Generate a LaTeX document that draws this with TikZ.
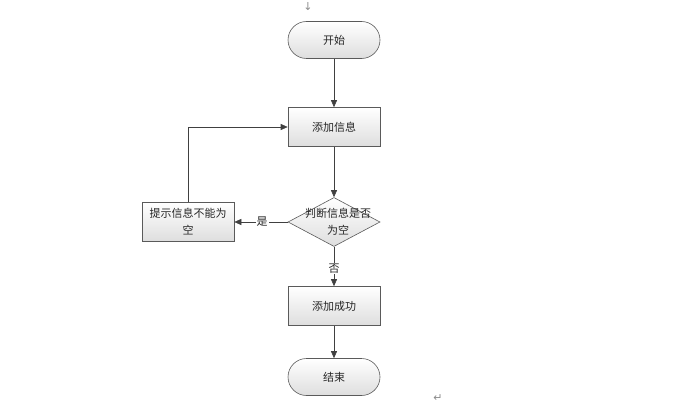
\documentclass[tikz,border=0pt]{standalone}
\usepackage{fontspec}
\setmainfont{Noto Sans CJK SC}
\newfontfamily\symfont{DejaVu Sans}
\definecolor{flowline}{RGB}{64,64,64}
\definecolor{flowedge}{RGB}{90,90,90}
\definecolor{flowfill}{RGB}{222,222,222}
\usetikzlibrary{arrows.meta,positioning,shapes.geometric}

\begin{document}
\begin{tikzpicture}[
  x=1pt,y=-1pt,
  every node/.style={font=\fontsize{11}{17}\selectfont,text=black!85},
  termbox/.style={draw=flowedge,line width=0.6pt,rounded corners=18.5pt,
                  minimum width=92pt,minimum height=37pt,
                  top color=white,bottom color=flowfill},
  procbox/.style={draw=flowedge,line width=0.6pt,minimum width=92pt,
                  minimum height=39pt,align=center,inner sep=2pt,
                  top color=white,bottom color=flowfill},
  decision/.style={draw=flowedge,line width=0.6pt,diamond,inner sep=0pt,
                   minimum width=92pt,minimum height=49pt,
                   top color=white,bottom color=flowfill},
  flowarrow/.style={draw=flowline,line width=0.6pt,-{Triangle[length=7pt,width=6pt]}},
  edgelbl/.style={fill=white,inner sep=1pt},
  marktxt/.style={font=\symfont\fontsize{11}{11}\selectfont,text=black!45,inner sep=1pt},
]
  \useasboundingbox (0,0) rectangle (693,409);

  % main column
  \node[termbox] (start) at (334,40) {开始};
  \node[procbox] (add) at (334,127) {添加信息};
  \node[decision] (judge) at (334,222) {};
  \node[align=center] (judgetxt) at (338,222) {判断信息是否\\为空};
  \node[procbox] (success) at (334,306) {添加成功};
  \node[termbox] (end) at (334,377) {结束};

  % side box
  \node[procbox] (prompt) at (188,222) {提示信息不能为\\空};

  % connectors
  \draw[flowarrow] (start) -- (add);
  \draw[flowarrow] (add) -- (judge);
  \draw[flowarrow] (judge) -- node[edgelbl,pos=0.48] {是} (prompt);
  \draw[flowarrow] (judge) -- node[edgelbl,pos=0.55] {否} (success);
  \draw[flowarrow] (success) -- (end);
  \draw[flowarrow] (prompt.north) |- (add.west);

  % stray marks
  \node[marktxt] (topmark) at (308,7) {↓};
  \node[marktxt] (retmark) at (438,398) {↵};
\end{tikzpicture}
\end{document}
